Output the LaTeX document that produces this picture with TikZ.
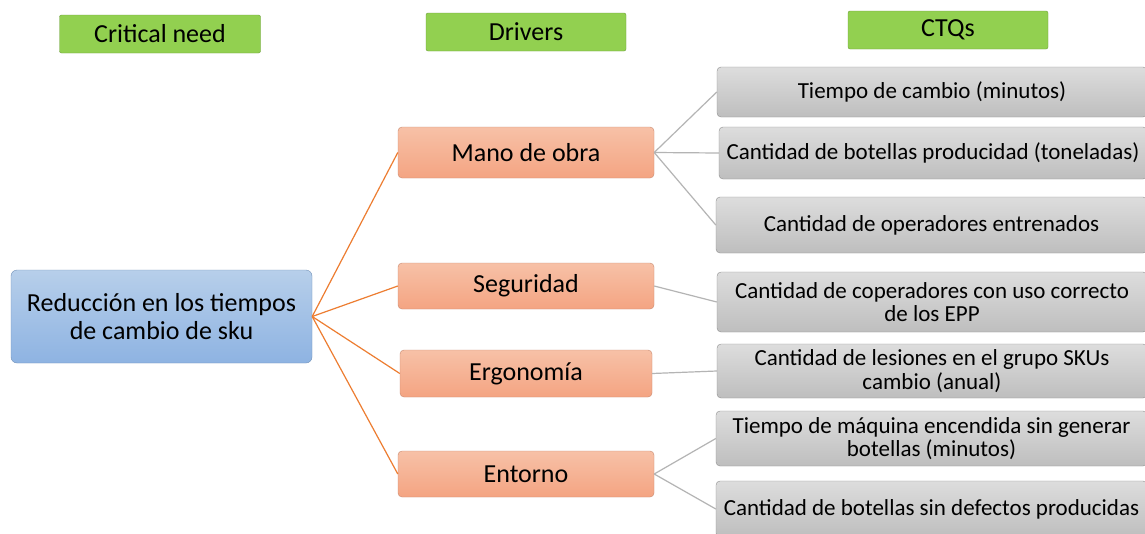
\documentclass[tikz,border=0pt]{standalone}
\usepackage{fontspec}
\setmainfont{Carlito}
\definecolor{hdrgreen}{HTML}{92D050}
\definecolor{hdrborder}{HTML}{6E9E3C}
\definecolor{orTop}{HTML}{F7C1A7}
\definecolor{orBot}{HTML}{F4A482}
\definecolor{orBorder}{HTML}{C98A70}
\definecolor{blTop}{HTML}{B7CFEA}
\definecolor{blBot}{HTML}{8EB3E2}
\definecolor{blBorder}{HTML}{7291B8}
\definecolor{grTop}{HTML}{DDDDDD}
\definecolor{grBot}{HTML}{BEBEBE}
\definecolor{grBorder}{HTML}{8F8F8F}
\definecolor{orLine}{HTML}{ED7D31}
\definecolor{grLine}{HTML}{B4B4B4}
\begin{document}
\begin{tikzpicture}[x=1pt,y=-1pt,
  hdr/.style={draw=hdrborder, fill=hdrgreen, rounded corners=2pt, inner sep=0pt,
    minimum width=201pt, minimum height=38pt, font=\fontsize{26}{30}\selectfont},
  rootbox/.style={draw=blBorder, top color=blTop, bottom color=blBot, rounded corners=6pt,
    inner sep=0pt, minimum width=301pt, minimum height=93pt, align=center,
    font=\fontsize{26}{28}\selectfont},
  drvbox/.style={draw=orBorder, top color=orTop, bottom color=orBot, rounded corners=4pt,
    inner sep=0pt, minimum width=256pt, font=\fontsize{26}{30}\selectfont},
  ctqbox/.style={draw=grBorder, top color=grTop, bottom color=grBot, rounded corners=4pt,
    inner sep=0pt, minimum width=430pt, align=center, font=\fontsize{23}{23.5}\selectfont},
  orl/.style={draw=orLine, line width=1.2pt},
  grl/.style={draw=grLine, line width=1.2pt}]
\useasboundingbox (0,0) rectangle (1145,533);
\fill[white] (0,0) rectangle (1145,533);

\node[hdr] (cn) at (160,34) {Critical need};
\node[hdr, minimum width=200pt] (dr) at (526,32) {Drivers};
\node[hdr, minimum width=200pt] (ct) at (948,30) {CTQs};

\node[rootbox] (root) at (161.5,316.5) {Reducción en los tiempos\\de cambio de sku};

\node[drvbox, minimum height=51pt] (mano) at (526,152.5) {Mano de obra};
\node[drvbox, minimum height=46pt] (seg) at (526,286) {Seguridad};
\node[drvbox, minimum height=47pt, minimum width=252pt] (erg) at (526,373.5) {Ergonomía};
\node[drvbox, minimum height=46pt] (ent) at (526,474) {Entorno};

\node[ctqbox, minimum height=50pt] (q1) at (932,92) {Tiempo de cambio (minutos)};
\node[ctqbox, minimum height=52pt, minimum width=428pt] (q2) at (933,153) {Cantidad de botellas producidad (toneladas)};
\node[ctqbox, minimum height=56pt, minimum width=431pt] (q3) at (931.5,225) {Cantidad de operadores entrenados};
\node[ctqbox, minimum height=60pt] (q4) at (932,302) {Cantidad de coperadores con uso correcto\\de los EPP};
\node[ctqbox, minimum height=54pt] (q5) at (932,371) {Cantidad de lesiones en el grupo SKUs\\cambio (anual)};
\node[ctqbox, minimum height=55pt, minimum width=431pt] (q6) at (931.5,438.5) {Tiempo de máquina encendida sin generar\\botellas (minutos)};
\node[ctqbox, minimum height=56pt, minimum width=431pt] (q7) at (931.5,509) {Cantidad de botellas sin defectos producidas};

\draw[orl] (root.east) -- (mano.west);
\draw[orl] (root.east) -- (seg.west);
\draw[orl] (root.east) -- (erg.west);
\draw[orl] (root.east) -- (ent.west);

\draw[grl] (mano.east) -- (q1.west);
\draw[grl] (mano.east) -- (q2.west);
\draw[grl] (mano.east) -- (q3.west);
\draw[grl] (seg.east) -- (q4.west);
\draw[grl] (erg.east) -- (q5.west);
\draw[grl] (ent.east) -- (q6.west);
\draw[grl] (ent.east) -- (q7.west);
\end{tikzpicture}
\end{document}
